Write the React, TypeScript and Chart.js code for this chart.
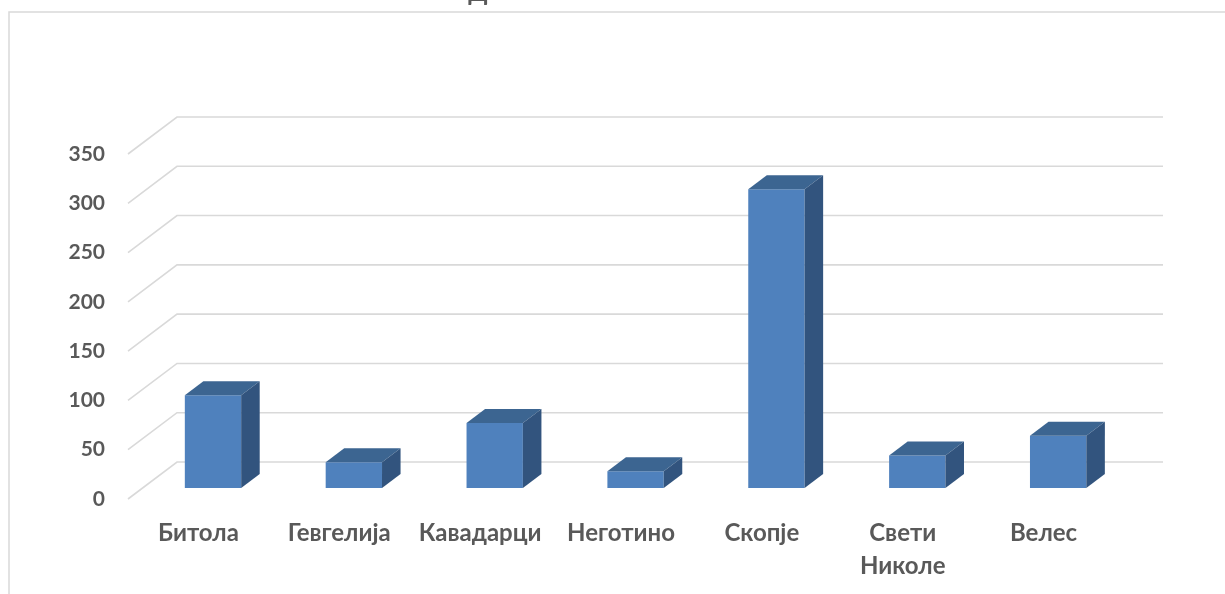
import React, { useEffect, useRef } from 'react';
import { Chart, registerables } from 'chart.js';

Chart.register(...registerables);

// ---- data ----
const categories: (string | string[])[] = [
  'Битола',
  'Гевгелија',
  'Кавадарци',
  'Неготино',
  'Скопје',
  ['Свети', 'Николе'],
  'Велес',
];
const values: number[] = [94, 26, 66, 17, 303, 33, 53];
const yMin = 0;
const yMax = 350;
const yStep = 50;
const titleFragment = 'Д';

// ---- styles ----
const FRONT = '#4F81BD';
const TOP = '#3C6591';
const SIDE = '#32547E';
const GRID = '#D9D9D9';
const TEXT = '#595959';
const FONT = 'Lato';
const DEPTH_X = 49;
const DEPTH_Y = 37;
const BAR_OFFSET = 11 / 37;
const BAR_DEPTH = 14 / 37;

const threeD = {
  id: 'threeD',
  beforeDraw(chart: any) {
    const { ctx, chartArea: a } = chart;
    const y = chart.scales.y;
    ctx.save();
    // outer frame (only left and top are inside the picture)
    ctx.strokeStyle = GRID;
    ctx.lineWidth = 1.5;
    ctx.beginPath();
    ctx.moveTo(9, chart.height);
    ctx.lineTo(9, 12);
    ctx.lineTo(chart.width, 12);
    ctx.stroke();
    // cut-off title fragment
    ctx.fillStyle = TEXT;
    ctx.font = `bold 24px ${FONT}`;
    ctx.textAlign = 'center';
    ctx.textBaseline = 'alphabetic';
    ctx.fillText(titleFragment, 478, 1);
    // side wall diagonals + back wall gridlines
    ctx.strokeStyle = GRID;
    ctx.lineWidth = 1.6;
    y.ticks.forEach((t: any) => {
      const py = y.getPixelForValue(t.value);
      ctx.beginPath();
      ctx.moveTo(a.left, py);
      ctx.lineTo(a.left + DEPTH_X, py - DEPTH_Y);
      ctx.lineTo(a.right + DEPTH_X, py - DEPTH_Y);
      ctx.stroke();
    });
    ctx.restore();
  },
  beforeDatasetsDraw(chart: any) {
    chart.ctx.save();
    chart.ctx.translate(DEPTH_X * BAR_OFFSET, -DEPTH_Y * BAR_OFFSET);
  },
  afterDatasetsDraw(chart: any) {
    const ctx = chart.ctx;
    const meta = chart.getDatasetMeta(0);
    const dx = DEPTH_X * BAR_DEPTH;
    const dy = DEPTH_Y * BAR_DEPTH;
    meta.data.forEach((bar: any) => {
      const { x, y, base, width } = bar.getProps(['x', 'y', 'base', 'width'], true);
      const l = x - width / 2;
      const r = x + width / 2;
      ctx.fillStyle = TOP;
      ctx.beginPath();
      ctx.moveTo(l, y);
      ctx.lineTo(l + dx, y - dy);
      ctx.lineTo(r + dx, y - dy);
      ctx.lineTo(r, y);
      ctx.closePath();
      ctx.fill();
      ctx.fillStyle = SIDE;
      ctx.beginPath();
      ctx.moveTo(r, y);
      ctx.lineTo(r + dx, y - dy);
      ctx.lineTo(r + dx, base - dy);
      ctx.lineTo(r, base);
      ctx.closePath();
      ctx.fill();
    });
    ctx.restore();
  },
};

export default function App() {
  const ref = useRef<HTMLCanvasElement | null>(null);

  useEffect(() => {
    if (!ref.current) return;
    const chart = new Chart(ref.current, {
      type: 'bar',
      data: {
        labels: categories as any,
        datasets: [
          {
            data: values,
            backgroundColor: FRONT,
            borderWidth: 0,
            categoryPercentage: 1,
            barPercentage: 0.4,
            clip: false as any,
          },
        ],
      },
      options: {
        animation: false,
        responsive: true,
        maintainAspectRatio: false,
        layout: { padding: { top: 154, right: 111, bottom: 0, left: 0 } },
        plugins: {
          legend: { display: false },
          tooltip: { enabled: false },
          title: { display: false },
        },
        scales: {
          x: {
            offset: true,
            grid: { display: false, drawTicks: false },
            border: { display: false },
            ticks: {
              color: TEXT,
              font: { family: FONT, weight: 'bold', size: 24, lineHeight: 33 / 24 },
              padding: 17.5,
              maxRotation: 0,
              minRotation: 0,
              autoSkip: false,
            },
            afterFit: (s: any) => {
              s.height = 95;
            },
          },
          y: {
            min: yMin,
            max: yMax,
            grid: { display: false, drawTicks: false },
            border: { display: false },
            ticks: {
              stepSize: yStep,
              color: TEXT,
              font: { family: FONT, weight: 'bold', size: 21 },
              padding: 23,
            },
            afterFit: (s: any) => {
              s.width = 128;
            },
          },
        },
      },
      plugins: [threeD],
    });
    return () => chart.destroy();
  }, []);

  return (
    <div style={{ position: 'absolute', left: 0, top: 0, width: 1225, height: 594, background: '#fff' }}>
      <canvas ref={ref} />
    </div>
  );
}
